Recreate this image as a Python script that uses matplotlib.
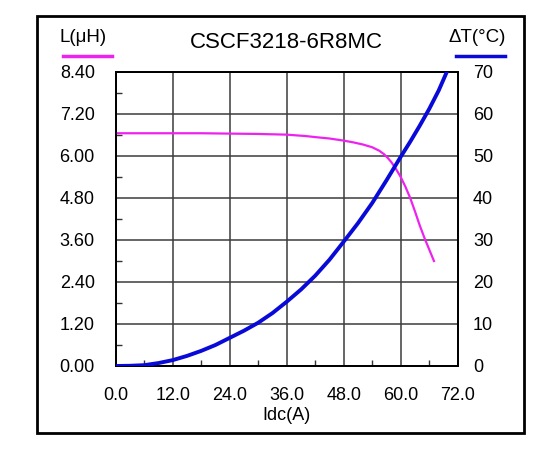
import matplotlib.pyplot as plt
from matplotlib.patches import Rectangle
from matplotlib.lines import Line2D

plt.rcParams['font.family'] = ['Liberation Sans', 'DejaVu Sans']

# inductance curve L(uH) vs Idc(A)
idc_l = [0, 6, 12, 18, 24, 30, 36, 40, 42, 45, 48, 50, 52, 54, 55.5, 56.5, 57.3, 58, 59, 60, 61, 62, 63, 64, 65, 66, 67]
ind_l = [6.65, 6.65, 6.65, 6.65, 6.64, 6.63, 6.61, 6.57, 6.54, 6.50, 6.44, 6.39, 6.33, 6.25, 6.15, 6.05, 5.94, 5.83, 5.63, 5.40, 5.12, 4.80, 4.42, 4.02, 3.66, 3.33, 3.00]

# temperature rise curve
idc_t = [0, 3, 6, 9, 12, 15, 18, 21, 24, 27, 30, 33, 36, 39, 42, 45, 48, 51, 54, 57, 60, 62, 64, 66, 68, 69.7]
temp_t = [0, 0.05, 0.2, 0.7, 1.4, 2.4, 3.6, 5.0, 6.7, 8.4, 10.3, 12.6, 15.3, 18.2, 21.5, 25.3, 29.6, 34.0, 38.8, 44.2, 49.8, 53.4, 57.2, 61.2, 65.6, 70.0]

x_ticks = [0, 12, 24, 36, 48, 60, 72]
l_ticks = [0, 1.2, 2.4, 3.6, 4.8, 6.0, 7.2, 8.4]
t_ticks = [0, 10, 20, 30, 40, 50, 60, 70]

fig = plt.figure(figsize=(5.56, 4.49), dpi=100)
fig.patches.append(Rectangle((37 / 556, 16 / 449), 487 / 556, 417 / 449,
                             transform=fig.transFigure, fill=False,
                             edgecolor='black', linewidth=2))

ax = fig.add_axes([115.7 / 556, 83 / 449, 342 / 556, 294 / 449])
ax2 = ax.twinx()

ax.plot(idc_l, ind_l, color='#ee22ee', linewidth=1.6, zorder=3)
ax2.plot(idc_t, temp_t, color='#0a0ad8', linewidth=2.8, zorder=3)

ax.set_xlim(0, 72)
ax.set_ylim(0, 8.4)
ax2.set_ylim(0, 70)

ax.set_xticks(x_ticks)
ax.set_xticklabels(['%.1f' % v for v in x_ticks])
ax.set_yticks(l_ticks)
ax.set_yticklabels(['%.2f' % v for v in l_ticks])
ax2.set_yticks(t_ticks)
ax2.set_yticklabels(['%d' % v for v in t_ticks])

ax.set_xticks([6 + 12 * i for i in range(6)], minor=True)
ax.set_yticks([0.6 + 1.2 * i for i in range(7)], minor=True)

ax.grid(True, which='major', color='#3c3c3c', linewidth=1.1)
ax.tick_params(which='major', length=0, labelsize=13)
ax.tick_params(axis='y', which='major', pad=15)
ax.tick_params(axis='x', which='major', pad=15)
ax.tick_params(which='minor', direction='in', length=4, width=1, color='#333333')
ax2.tick_params(which='major', length=0, labelsize=13, pad=11)

for a in (ax, ax2):
    for s in a.spines.values():
        s.set_color('black')
        s.set_linewidth(1.3)

ax.set_xlabel('Idc(A)', fontsize=13, labelpad=2)

fig.text(286.7 / 556, 1 - 42 / 449, 'CSCF3218-6R8MC', fontsize=16,
         ha='center', va='center')
fig.text(83 / 556, 1 - 37 / 449, 'L(μH)', fontsize=13.5, ha='center', va='center')
fig.text(477 / 556, 1 - 37 / 449, 'ΔT(°C)', fontsize=13.5, ha='center', va='center')
fig.lines.append(Line2D([63 / 556, 112 / 556], [1 - 55.7 / 449] * 2,
                        transform=fig.transFigure, color='#ee22ee', linewidth=2.5))
fig.lines.append(Line2D([456 / 556, 505 / 556], [1 - 55.7 / 449] * 2,
                        transform=fig.transFigure, color='#0a0ad8', linewidth=2.5))

fig.savefig('out.png', dpi=100, facecolor='white')
